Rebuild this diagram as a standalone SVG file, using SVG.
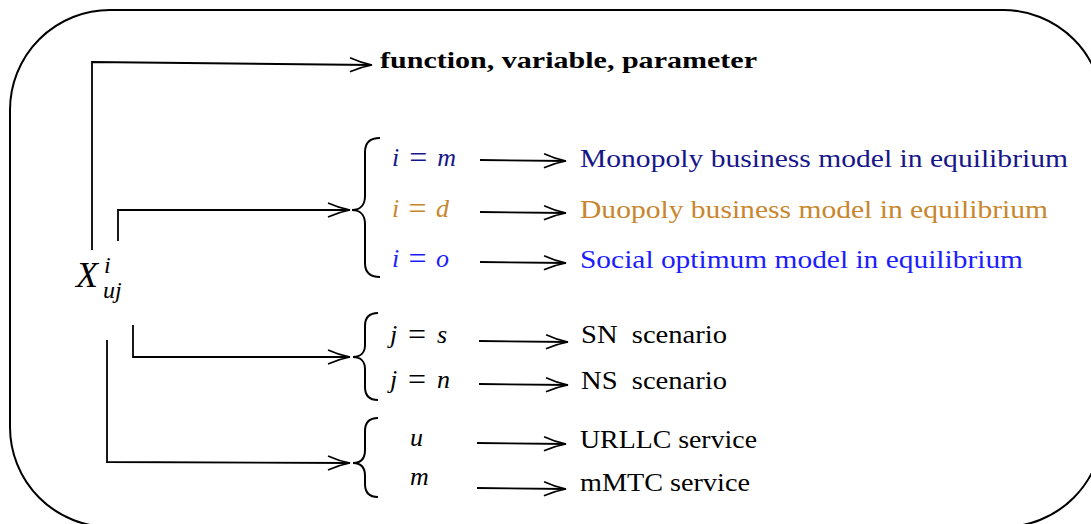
<svg xmlns="http://www.w3.org/2000/svg" width="1091" height="524" viewBox="0 0 1091 524">
<defs>
<marker id="ah" markerUnits="userSpaceOnUse" viewBox="0 0 24 16" refX="23" refY="8" markerWidth="24" markerHeight="16" orient="auto">
<path d="M1,1 Q12,6 23,8 Q12,10 1,15" fill="none" stroke="#000" stroke-width="1.6"/>
</marker>
<style>
.ln{fill:none;stroke:#000;stroke-width:1.8}
.br{fill:none;stroke:#000;stroke-width:2}
.t{font-family:"Liberation Serif","Times New Roman",serif;font-size:25px;fill:#000}
.m{font-family:"Liberation Serif","Times New Roman",serif;font-size:26px;font-style:italic}
.eq{font-style:normal;font-size:32px}
.b{font-family:"Liberation Serif","Times New Roman",serif;font-size:23px;font-weight:bold}
.c1{fill:#16168A}
.c2{fill:#C8862E}
.c3{fill:#1C1CFF}
</style>
</defs>
<rect x="10" y="10" width="1093" height="517" rx="100" ry="100" fill="#fff" stroke="#000" stroke-width="2"/>
<g id="connectors">
<path class="ln" d="M92,250 L92,62 L372,65" marker-end="url(#ah)"/>
<path class="ln" d="M118,241 L118,210 L350,210" marker-end="url(#ah)"/>
<path class="ln" d="M133,325 L133,357 L350,357" marker-end="url(#ah)"/>
<path class="ln" d="M107,340 L107,462 L350,463" marker-end="url(#ah)"/>
<path class="ln" d="M480,160 L566,161" marker-end="url(#ah)"/>
<path class="ln" d="M480,212 L566,213" marker-end="url(#ah)"/>
<path class="ln" d="M480,262 L566,263" marker-end="url(#ah)"/>
<path class="ln" d="M479,341 L568,342" marker-end="url(#ah)"/>
<path class="ln" d="M479,384 L568,385" marker-end="url(#ah)"/>
<path class="ln" d="M477,443 L566,444" marker-end="url(#ah)"/>
<path class="ln" d="M477,488 L566,489" marker-end="url(#ah)"/>
</g>
<g id="root">
<text x="76" y="287" font-family="Liberation Serif,serif" font-size="36" font-style="italic">X</text>
<text x="104" y="273" font-family="Liberation Serif,serif" font-size="24" font-style="italic">i</text>
<text x="103" y="298" font-family="Liberation Serif,serif" font-size="24" font-style="italic">uj</text>
</g>
<g id="header">
<text class="b" x="380" y="68" textLength="377" lengthAdjust="spacingAndGlyphs">function, variable, parameter</text>
</g>
<g id="brace-i">
<path class="br" d="M380,138 C370,138 365,143 365,152 L365,196 C365,205 360,210 352,210 C360,210 365,215 365,224 L365,263 C365,272 370,277 380,277"/>
<text class="m c1" x="392" y="166" textLength="64" lengthAdjust="spacing">i <tspan class="eq" dy="2">=</tspan><tspan dy="-2"> m</tspan></text>
<text class="m c2" x="392" y="217" textLength="57" lengthAdjust="spacing">i <tspan class="eq" dy="2">=</tspan><tspan dy="-2"> d</tspan></text>
<text class="m c3" x="392" y="267" textLength="57" lengthAdjust="spacing">i <tspan class="eq" dy="2">=</tspan><tspan dy="-2"> o</tspan></text>
</g>
<g id="brace-j">
<path class="br" d="M378,313 C369,313 365,318 365,326 L365,345 C365,352 361,357 353,357 C361,357 365,362 365,369 L365,387 C365,395 369,400 378,400"/>
<text class="m" x="390" y="343" textLength="57" lengthAdjust="spacing">j <tspan class="eq" dy="2">=</tspan><tspan dy="-2"> s</tspan></text>
<text class="m" x="390" y="388" textLength="60" lengthAdjust="spacing">j <tspan class="eq" dy="2">=</tspan><tspan dy="-2"> n</tspan></text>
</g>
<g id="brace-u">
<path class="br" d="M378,418 C369,418 365,423 365,431 L365,450 C365,458 361,463 353,463 C361,463 365,468 365,476 L365,484 C365,492 369,497 378,497"/>
<text class="m" x="410" y="446">u</text>
<text class="m" x="410" y="485">m</text>
</g>
<g id="n-monopoly"><text class="t c1" x="580" y="167" textLength="488" lengthAdjust="spacingAndGlyphs">Monopoly business model in equilibrium</text></g>
<g id="n-duopoly"><text class="t c2" x="580" y="218" textLength="468" lengthAdjust="spacingAndGlyphs">Duopoly business model in equilibrium</text></g>
<g id="n-social"><text class="t c3" x="580" y="268" textLength="443" lengthAdjust="spacingAndGlyphs">Social optimum model in equilibrium</text></g>
<g id="n-sn"><text class="t" x="581" y="343" textLength="146" lengthAdjust="spacingAndGlyphs" xml:space="preserve">SN  scenario</text></g>
<g id="n-ns"><text class="t" x="581" y="389" textLength="146" lengthAdjust="spacingAndGlyphs" xml:space="preserve">NS  scenario</text></g>
<g id="n-urllc"><text class="t" x="580" y="448" textLength="177" lengthAdjust="spacingAndGlyphs">URLLC service</text></g>
<g id="n-mmtc"><text class="t" x="580" y="491" textLength="170" lengthAdjust="spacingAndGlyphs">mMTC service</text></g>
</svg>
